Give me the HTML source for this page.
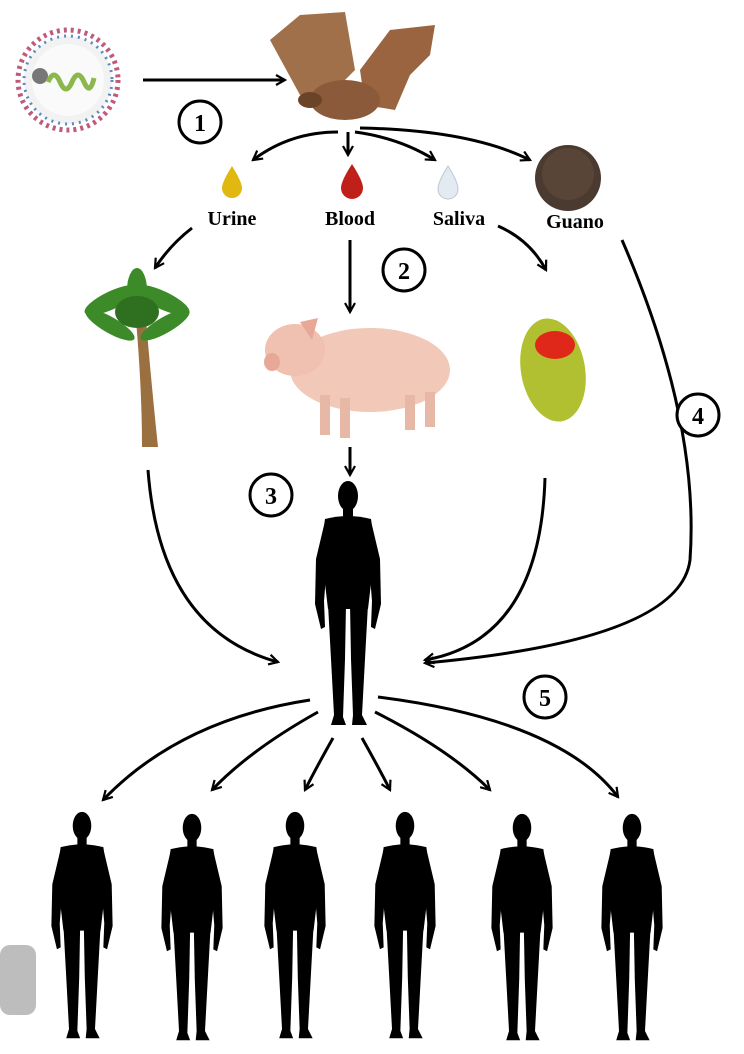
<!DOCTYPE html>
<html><head><meta charset="utf-8"><style>
html,body{margin:0;padding:0;background:#fff;}
svg{display:block}
text{font-family:"Liberation Serif",serif;font-weight:bold;}
</style></head><body>
<svg width="744" height="1054" viewBox="0 0 744 1054" xmlns="http://www.w3.org/2000/svg">
<defs>
<marker id="ah" viewBox="0 0 12 12" refX="10" refY="6" markerWidth="12" markerHeight="12" markerUnits="userSpaceOnUse" orient="auto">
<path d="M1,1 L10,6 L1,11" fill="none" stroke="#000" stroke-width="2.2"/>
</marker>
<symbol id="man" viewBox="0 0 70 250">
<ellipse cx="35" cy="17" rx="10" ry="15" fill="#000"/>
<rect x="30" y="26" width="10" height="14" fill="#000"/>
<path d="M12,40 Q35,34 58,40 L62,70 L55,130 L15,130 L8,70 Z" fill="#000"/>
<path d="M12,42 L3,80 L2,125 L8,150 L12,148 L11,122 L14,85 Z" fill="#000"/>
<path d="M58,42 L67,80 L68,125 L62,150 L58,148 L59,122 L56,85 Z" fill="#000"/>
<path d="M15,125 L33,125 L32,180 L30,238 L33,246 L18,246 L21,236 L18,180 Z" fill="#000"/>
<path d="M37,125 L55,125 L52,180 L49,236 L54,246 L39,246 L40,236 L38,180 Z" fill="#000"/>
</symbol>
</defs>

<!-- virus -->
<circle cx="68" cy="80" r="50" fill="#fff" stroke="#c05a7a" stroke-width="5" stroke-dasharray="3 4"/>
<circle cx="68" cy="80" r="44" fill="#f2f2f2" stroke="#5a8ac0" stroke-width="3" stroke-dasharray="2 5"/>
<circle cx="68" cy="80" r="36" fill="#fafafa"/>
<circle cx="40" cy="76" r="8" fill="#777"/>
<path d="M48,82 q6,-14 12,0 t12,0 t12,0 t10,-4" fill="none" stroke="#8ab84a" stroke-width="5"/>

<!-- bat -->
<path d="M270,40 L300,15 L345,12 L355,70 L330,95 L300,95 Z" fill="#a0704a"/>
<path d="M360,70 L390,30 L435,25 L430,55 L410,75 L395,110 L365,105 Z" fill="#9a6440"/>
<ellipse cx="345" cy="100" rx="35" ry="20" fill="#8a5a3a"/>
<ellipse cx="310" cy="100" rx="12" ry="8" fill="#6b4428"/>

<!-- arrow 1 -->
<line x1="143" y1="80" x2="285" y2="80" stroke="#000" stroke-width="3" marker-end="url(#ah)"/>
<circle cx="200" cy="122" r="21" fill="#fff" stroke="#000" stroke-width="3"/>
<text x="200" y="131" font-size="24" text-anchor="middle">1</text>

<!-- bat outputs -->
<g fill="none" stroke="#000" stroke-width="3" marker-end="url(#ah)">
<path d="M338,132 Q290,132 253,160"/>
<line x1="348" y1="132" x2="348" y2="155"/>
<path d="M355,132 Q400,138 435,160"/>
<path d="M360,128 Q470,130 530,160"/>
<path d="M192,228 Q170,245 155,268"/>
<line x1="350" y1="240" x2="350" y2="312"/>
<path d="M498,226 Q530,240 546,270"/>
<path d="M622,240 Q700,420 690,560 Q680,640 425,663"/>
<line x1="350" y1="447" x2="350" y2="475"/>
<path d="M148,470 Q160,630 278,662"/>
<path d="M545,478 Q540,640 425,660"/>
<path d="M310,700 Q180,720 103,800"/>
<path d="M318,712 Q250,750 212,790"/>
<path d="M333,738 Q315,770 305,790"/>
<path d="M362,738 Q380,770 390,790"/>
<path d="M375,712 Q450,750 490,790"/>
<path d="M378,697 Q560,720 618,797"/>
</g>

<!-- drops -->
<path d="M232,166 Q222,182 222,188 A10,10 0 0 0 242,188 Q242,182 232,166Z" fill="#e0b810"/>
<path d="M352,164 Q341,181 341,188 A11,11 0 0 0 363,188 Q363,181 352,164Z" fill="#c0201a"/>
<path d="M448,166 Q438,182 438,189 A10,10 0 0 0 458,189 Q458,182 448,166Z" fill="#e4eaf2" stroke="#bcc6d2"/>
<circle cx="568" cy="178" r="33" fill="#4a3a30"/>
<circle cx="568" cy="174" r="26" fill="#5e4a3c" opacity=".7"/>

<text x="232" y="225" font-size="20" text-anchor="middle">Urine</text>
<text x="350" y="225" font-size="20" text-anchor="middle">Blood</text>
<text x="459" y="225" font-size="20" text-anchor="middle">Saliva</text>
<text x="575" y="228" font-size="20" text-anchor="middle">Guano</text>

<circle cx="404" cy="270" r="21" fill="#fff" stroke="#000" stroke-width="3"/>
<text x="404" y="279" font-size="24" text-anchor="middle">2</text>

<!-- palm -->
<path d="M136,320 Q142,390 142,447 L158,447 Q152,390 146,320Z" fill="#9a7040"/>
<g fill="#3c8a28">
<ellipse cx="112" cy="300" rx="30" ry="9" transform="rotate(-25 112 300)"/>
<ellipse cx="162" cy="300" rx="30" ry="9" transform="rotate(25 162 300)"/>
<ellipse cx="137" cy="290" rx="10" ry="22"/>
<ellipse cx="110" cy="325" rx="28" ry="8" transform="rotate(30 110 325)"/>
<ellipse cx="165" cy="325" rx="28" ry="8" transform="rotate(-30 165 325)"/>
<ellipse cx="137" cy="312" rx="22" ry="16" fill="#2f7020"/>
</g>

<!-- pig -->
<ellipse cx="370" cy="370" rx="80" ry="42" fill="#f2c8b8"/>
<ellipse cx="295" cy="350" rx="30" ry="26" fill="#f0c0b0"/>
<ellipse cx="272" cy="362" rx="8" ry="9" fill="#e8a898"/>
<path d="M300,322 L318,318 L312,340Z" fill="#e8a898"/>
<g fill="#e8b8a6"><rect x="320" y="395" width="10" height="40"/><rect x="340" y="398" width="10" height="40"/><rect x="405" y="395" width="10" height="35"/><rect x="425" y="392" width="10" height="35"/></g>

<!-- mango -->
<ellipse cx="553" cy="370" rx="32" ry="52" fill="#b0c030" transform="rotate(-10 553 370)"/>
<ellipse cx="555" cy="345" rx="20" ry="14" fill="#e0281a"/>

<circle cx="698" cy="415" r="21" fill="#fff" stroke="#000" stroke-width="3"/>
<text x="698" y="424" font-size="24" text-anchor="middle">4</text>
<circle cx="271" cy="495" r="21" fill="#fff" stroke="#000" stroke-width="3"/>
<text x="271" y="504" font-size="24" text-anchor="middle">3</text>
<circle cx="545" cy="697" r="21" fill="#fff" stroke="#000" stroke-width="3"/>
<text x="545" y="706" font-size="24" text-anchor="middle">5</text>

<!-- humans -->
<use href="#man" x="313" y="478" width="70" height="252"/>
<use href="#man" x="47" y="810" width="70" height="232"/>
<use href="#man" x="157" y="812" width="70" height="232"/>
<use href="#man" x="260" y="810" width="70" height="232"/>
<use href="#man" x="370" y="810" width="70" height="232"/>
<use href="#man" x="487" y="812" width="70" height="232"/>
<use href="#man" x="597" y="812" width="70" height="232"/>

<rect x="0" y="945" width="36" height="70" rx="10" fill="#bdbdbd"/>
</svg>
</body></html>
